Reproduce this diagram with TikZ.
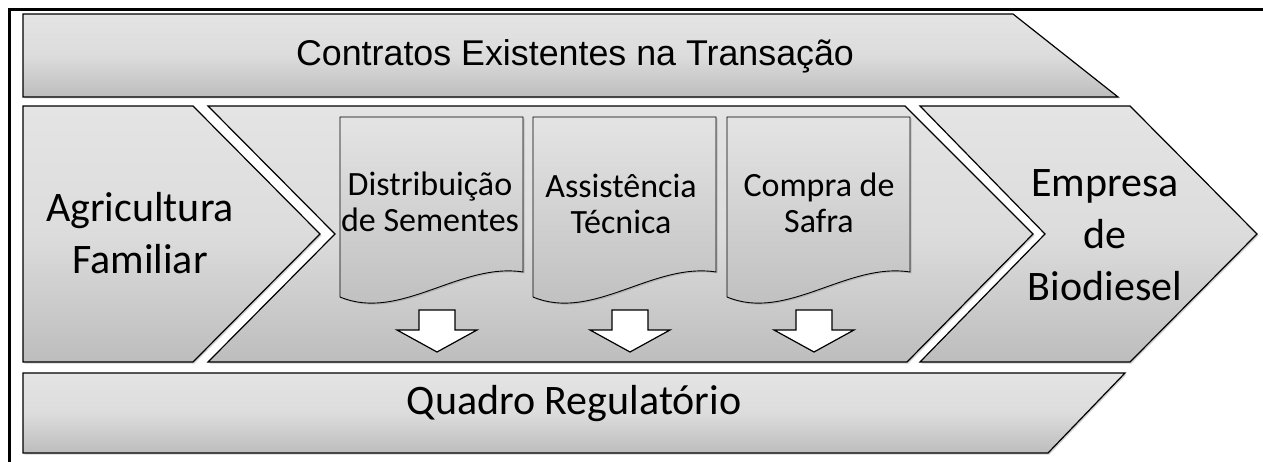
\documentclass[tikz,border=0pt]{standalone}
\usepackage{fontspec}
\setmainfont{Carlito}
\newfontfamily\arialf{Liberation Sans}
\usetikzlibrary{shadows}
\definecolor{gtop}{HTML}{E4E4E4}
\definecolor{gbot}{HTML}{BDBDBD}
\tikzset{
  band/.style={draw=black, line width=1.2pt, top color=gtop, bottom color=gbot, middle color=gtop!80!gbot,
    drop shadow={shadow xshift=1.5pt, shadow yshift=-1.5pt, opacity=.35}},
  docbox/.style={draw=black, line width=0.9pt, top color=gtop, bottom color=gbot,
    drop shadow={shadow xshift=1.5pt, shadow yshift=-1.5pt, opacity=.35}},
  blockarrow/.style={draw=black, line width=1.2pt, fill=white},
  bigtext/.style={font=\fontsize{42}{52}\selectfont, align=center, inner sep=0pt},
  doctext/.style={font=\fontsize{34}{36}\selectfont, align=center, inner sep=0pt},
  frame/.style={line width=3pt, draw=black}
}
\begin{document}
\begin{tikzpicture}[x=1pt,y=-1pt]
\useasboundingbox (0,0) rectangle (1263,462);
\draw[frame] (9.5,462) -- (9.5,9.5) -- (1263,9.5);
% top band
\path[band] (23,14) -- (1013,14) -- (1118,97) -- (23,97) -- cycle;
\node[anchor=base, inner sep=0pt, font=\arialf\fontsize{35.8}{40}\selectfont] (contratos) at (575,66) {Contratos Existentes na Transação};
% middle row
\path[band] (23,106) -- (193,106) -- (320,234) -- (193,362) -- (23,362) -- cycle;
\path[band] (208,106) -- (905,106) -- (1033,234) -- (907,362) -- (208,362) -- (335,234) -- cycle;
\path[band] (920,106) -- (1130,106) -- (1257,234) -- (1130,362) -- (920,362) -- (1045,234) -- cycle;
\node[bigtext] (agri) at (140,233) {Agricultura\\Familiar};
\node[bigtext] (emp) at (1105,235) {Empresa\\de\\Biodiesel};
% documents
\foreach \dx/\nm in {0/d1,193/d2,387/d3}{
  \path[docbox, shift={(\dx,0)}] (340,117) -- (523,117) -- (523,272)
     .. controls (460,262) and (400,322) .. (340,297) -- cycle;
}
\node[doctext] (dist) at (430,202) {Distribuição\\de Sementes};
\node[doctext] (assist) at (621,204) {Assistência\\Técnica};
\node[doctext] (compra) at (819,203) {Compra de\\Safra};
% block arrows
\foreach \c/\nm in {437/a1,630/a2,814/a3}{
  \path[blockarrow] (\c-18,310) -- (\c+18,310) -- (\c+18,330) -- (\c+40,330) -- (\c,352) -- (\c-40,330) -- (\c-18,330) -- cycle;
}
% bottom band
\path[band] (23,373) -- (1125,373) -- (1048,453) -- (23,453) -- cycle;
\node[anchor=base, inner sep=0pt, font=\fontsize{42}{50}\selectfont] (quadro) at (574,414) {Quadro Regulatório};
\end{tikzpicture}
\end{document}
